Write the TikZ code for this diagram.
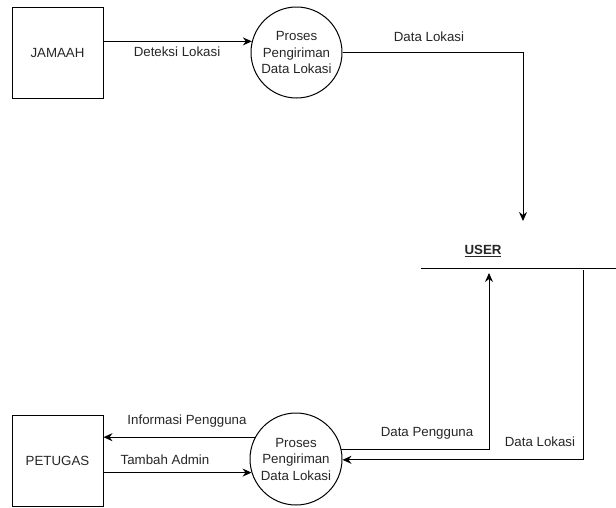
\documentclass[tikz,border=0pt]{standalone}
\usepackage{fontspec}
\setmainfont{Liberation Sans}
\usetikzlibrary{arrows.meta}
\begin{document}
\begin{tikzpicture}[x=1pt,y=-1pt,
 every node/.style={font=\fontsize{13.3}{16.5}\selectfont, text=black!85},
 ent/.style={draw, line width=1pt, minimum width=91pt, minimum height=91pt, inner sep=0pt},
 proc/.style={draw, circle, line width=1pt, minimum size=91pt, inner sep=0pt, align=center},
 flow/.style={line width=1pt, -{Stealth[length=9pt,width=8pt,inset=3pt]}},
 plain/.style={line width=1pt},
 lbl/.style={inner sep=0pt}]
\useasboundingbox (0,0) rectangle (616,507);
% entities and processes
\node[ent] (jamaah) at (57.5,52.5) {JAMAAH};
\node[proc] (p1) at (296.5,52.5) {Proses\\Pengiriman\\Data Lokasi};
\node[ent] (petugas) at (57.5,460.5) {PETUGAS};
\node[proc, minimum size=92pt] (p2) at (296,459) {Proses\\Pengiriman\\Data Lokasi};
% data store USER
\node[lbl] (user) at (483,251) {\underline{\textbf{USER}}};
\coordinate (storeL) at (421,268);
\coordinate (storeR) at (616,268);
\draw[plain] (storeL) -- (storeR);
\coordinate (usertop) at (523,221);
\coordinate (userin) at (489,273);
\coordinate (userout) at (583,270);
% flows
\draw[flow] (jamaah.east |- p1.166.7) -- (p1.166.7);
\draw[flow] (p1.east) -| (usertop);
\draw[flow] (p2.152.8) -- (petugas.east |- p2.152.8);
\draw[flow] (petugas.east |- p2.197.7) -- (p2.197.7);
\draw[flow] (p2.12.6) -| (userin);
\draw[flow] (userout) |- (p2.-1.2);
% labels
\node[lbl] (l1) at (177,52) {Deteksi Lokasi};
\node[lbl] (l2) at (429,37) {Data Lokasi};
\node[lbl] (l3) at (187,421) {Informasi Pengguna};
\node[lbl] (l4) at (165,460) {Tambah Admin};
\node[lbl] (l5) at (427,433) {Data Pengguna};
\node[lbl] (l6) at (540,442) {Data Lokasi};
\end{tikzpicture}
\end{document}
